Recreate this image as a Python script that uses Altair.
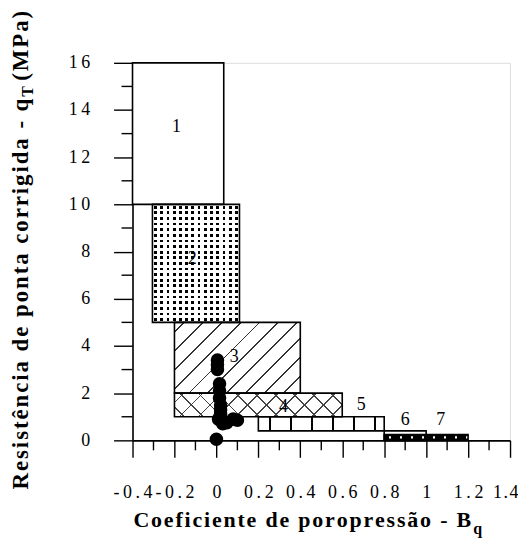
import altair as alt
import pandas as pd

# ---------------- data ----------------
box_id = ["1", "2", "3", "4", "5", "6", "7"]
box_x1 = [-0.4, -0.305, -0.2, -0.2, 0.2, 0.8, 0.8]
box_x2 = [0.035, 0.11, 0.4, 0.6, 0.8, 1.0, 1.2]
box_y1 = [10, 5, 2, 1, 0.4, 0, 0]
box_y2 = [16, 10, 5, 2, 1, 0.4, 0.25]

lab_text = ["1", "2", "3", "4", "5", "6", "7"]
lab_x = [-0.19, -0.115, 0.085, 0.32, 0.69, 0.9, 1.07]
lab_y = [13.3, 7.7, 3.55, 1.4, 1.5, 0.85, 0.85]

pt_x = [0.0, 0.005, 0.005, 0.005, 0.015, 0.015, 0.015, 0.02, 0.02, 0.02, 0.01, 0.03, 0.05, 0.08, 0.10]
pt_y = [0.05, 3.4, 3.2, 3.0, 2.4, 2.1, 1.8, 1.5, 1.3, 1.1, 0.9, 0.7, 0.75, 0.9, 0.85]

x_ticks = [-0.4, -0.2, 0, 0.2, 0.4, 0.6, 0.8, 1, 1.2, 1.4]
x_minor = [-0.3, -0.1, 0.1, 0.3, 0.5, 0.7, 0.9, 1.1, 1.3]
y_ticks = [0, 2, 4, 6, 8, 10, 12, 14, 16]
y_minor = [1, 3, 5, 7, 9, 11, 13, 15]

x_title_main = "Coeficiente de poropressão - B"
x_title_sub = "q"
y_title_main = "Resistência de ponta corrigida - q"
y_title_sub = "T"
y_title_end = "(MPa)"

# ---------------- layout constants ----------------
W, H = 379, 379
XMIN, XMAX, YMIN, YMAX = -0.4, 1.4, 0, 16
PX = W / (XMAX - XMIN)
PY = H / (YMAX - YMIN)
SERIF = "Liberation Serif"
HS = "\u200a"


def spaced(s):
    return HS.join(list(s))


boxes = pd.DataFrame({"id": box_id, "x1": box_x1, "x2": box_x2, "y1": box_y1, "y2": box_y2})
labels = pd.DataFrame({"t": lab_text, "x": lab_x, "y": lab_y})
points = pd.DataFrame({"x": pt_x, "y": pt_y})

xs = alt.Scale(domain=[XMIN, XMAX], nice=False, zero=False)
ys = alt.Scale(domain=[YMIN, YMAX], nice=False, zero=False)

LBL_Y = "join(split('' + datum.value, ''), '\u2009')"
LBL_X = ("datum.value >= 1.4 ? join(split('' + datum.value, ''), '\u200a') "
         ": join(split('' + datum.value, ''), '\u2009')")
axis_common = dict(domainColor="black", domainWidth=1.6, tickColor="black", tickWidth=1.4,
                   labelColor="black", labelFont=SERIF, grid=False, title=None,
                   labelOverlap=False, labelFlush=False)
X_AX = alt.Axis(values=x_ticks, tickSize=17, labelFontSize=18, labelPadding=26, labelExpr=LBL_X,
                labelAlign={"condition": {"test": "datum.value >= 1.4", "value": "right"}, "value": "center"},
                labelOffset={"condition": {"test": "datum.value >= 1.4", "value": 8}, "value": 0},
                **axis_common)
Y_AX = alt.Axis(values=y_ticks, tickSize=19, labelFontSize=18, labelPadding=24, labelExpr=LBL_Y,
                **axis_common)


def X(f):
    return alt.X(f, scale=xs, axis=X_AX)


def Y(f):
    return alt.Y(f, scale=ys, axis=Y_AX)


def stops_from(centers, half, line, bg):
    out = [(0.0, bg)]
    for c in centers:
        a, b = max(c - half, 0.0), min(c + half, 1.0)
        if b <= 0 or a >= 1:
            continue
        out += [(a, bg), (a, line), (b, line), (b, bg)]
    out.append((1.0, bg))
    return [alt.GradientStop(offset=o, color=c) for o, c in out]


def box_px(i):
    return (box_x2[i] - box_x1[i]) * PX, (box_y2[i] - box_y1[i]) * PY


def diag_gradient(i, spacing, lw, line, bg, direction="/"):
    w, h = box_px(i)
    r = h / w
    s = (1 + r) / (1 + r * r)
    period = spacing / (w + h)
    half = (lw / ((w + h) / 2 ** 0.5)) / 2
    n = int(1 / period) + 2
    centers = [period * (k + 0.5) for k in range(n)]
    st = stops_from(centers, half, line, bg)
    if direction == "/":
        return alt.LinearGradient(gradient="linear", stops=st, x1=0, y1=0, x2=s, y2=s * r)
    return alt.LinearGradient(gradient="linear", stops=st, x1=0, y1=1, x2=s, y2=1 - s * r)


def straight_gradient(centers, half, line, bg, horizontal=True):
    st = stops_from(centers, half, line, bg)
    if horizontal:
        return alt.LinearGradient(gradient="linear", stops=st, x1=0, y1=0, x2=1, y2=0)
    return alt.LinearGradient(gradient="linear", stops=st, x1=0, y1=0, x2=0, y2=1)


def rect_layer(i, fill, df=None):
    d = boxes.iloc[[i]] if df is None else df
    return alt.Chart(d).mark_rect(fill=fill, strokeWidth=0).encode(
        x=X("x1:Q"), x2="x2:Q", y=Y("y1:Q"), y2="y2:Q")


layers = []
TR = "rgba(255,255,255,0)"
# box 1: plain white
layers.append(rect_layer(0, "white"))
# box 2: black dots on white (black base, white stripe overlays)
w2, h2 = box_px(1)
ncol, nrow = 14, 21
layers.append(rect_layer(1, "black"))
layers.append(rect_layer(1, straight_gradient([(k + 0.5) / ncol for k in range(ncol)], 1.4 / w2, TR, "white", True)))
layers.append(rect_layer(1, straight_gradient([(k + 0.5) / nrow for k in range(nrow)], 1.4 / h2, TR, "white", False)))
# box 3: diagonal "/" hatch
layers.append(rect_layer(2, "white"))
layers.append(rect_layer(2, diag_gradient(2, 19, 1.4, "#333333", TR, "/")))
# box 4: cross hatch
layers.append(rect_layer(3, "white"))
layers.append(rect_layer(3, diag_gradient(3, 19, 1.3, "#444444", TR, "/")))
layers.append(rect_layer(3, diag_gradient(3, 19, 1.3, "#444444", TR, "\\")))
# box 5: vertical lines
w5, _ = box_px(4)
layers.append(rect_layer(4, "white"))
layers.append(rect_layer(4, straight_gradient([(12 + 21 * k) / w5 for k in range(6)], 0.9 / w5, "black", TR, True)))
# box 6: plain
layers.append(rect_layer(5, "white"))
# box 7: black bar with white dots in the middle
w7, _ = box_px(6)
layers.append(rect_layer(6, "black"))
mid = (box_y1[6] + box_y2[6]) / 2
band = pd.DataFrame({"x1": [box_x1[6]], "x2": [box_x2[6]], "y1": [mid - 1.1 / PY], "y2": [mid + 1.1 / PY]})
layers.append(rect_layer(6, straight_gradient([(6 + 11 * k) / w7 for k in range(8)], 1.3 / w7, "white", "black", True), df=band))

# outlines
layers.append(alt.Chart(boxes).mark_rect(fill=None, fillOpacity=0, stroke="black", strokeWidth=1.6).encode(
    x=X("x1:Q"), x2="x2:Q", y=Y("y1:Q"), y2="y2:Q"))

# minor ticks
layers.append(alt.Chart(pd.DataFrame({"v": x_minor})).mark_rule(color="black", strokeWidth=1.4).encode(
    x=X("v:Q"), y=alt.value(H), y2=alt.value(H + 10)))
layers.append(alt.Chart(pd.DataFrame({"v": y_minor})).mark_rule(color="black", strokeWidth=1.4).encode(
    y=Y("v:Q"), x=alt.value(-11), x2=alt.value(0)))

# points
layers.append(alt.Chart(points).mark_circle(color="black", opacity=1, size=185).encode(
    x=X("x:Q"), y=Y("y:Q")))

# zone labels
layers.append(alt.Chart(labels).mark_text(font=SERIF, fontSize=18, color="black", baseline="middle", align="center").encode(
    x=X("x:Q"), y=Y("y:Q"), text="t:N"))

# axis titles
one = pd.DataFrame({"a": [0]})
XT_END = 340
layers.append(alt.Chart(one).mark_text(font=SERIF, fontSize=22, fontWeight="bold", align="right",
                                       baseline="alphabetic", color="black").encode(
    x=alt.value(XT_END), y=alt.value(466), text=alt.value(spaced(x_title_main))))
layers.append(alt.Chart(one).mark_text(font=SERIF, fontSize=16, fontWeight="bold", align="left",
                                       baseline="alphabetic", color="black").encode(
    x=alt.value(XT_END + 2), y=alt.value(473), text=alt.value(x_title_sub)))

YT_X = -105
YT_END = 36
layers.append(alt.Chart(one).mark_text(font=SERIF, fontSize=23, fontWeight="bold", align="right", angle=270,
                                       baseline="alphabetic", color="black").encode(
    x=alt.value(YT_X), y=alt.value(YT_END), text=alt.value(spaced(y_title_main))))
layers.append(alt.Chart(one).mark_text(font=SERIF, fontSize=16, fontWeight="bold", align="left", angle=270,
                                       baseline="alphabetic", color="black").encode(
    x=alt.value(YT_X + 5), y=alt.value(YT_END - 2), text=alt.value(y_title_sub)))
layers.append(alt.Chart(one).mark_text(font=SERIF, fontSize=23, fontWeight="bold", align="left", angle=270,
                                       baseline="alphabetic", color="black").encode(
    x=alt.value(YT_X), y=alt.value(YT_END - 18), text=alt.value(spaced(y_title_end))))

chart = alt.layer(*layers).properties(
    width=W, height=H,
    autosize=alt.AutoSizeParams(type="none"),
    padding={"left": 125, "top": 54, "right": 8, "bottom": 100},
).configure_view(stroke=None).configure(background="white")

chart.save("out.html", embed_options={"renderer": "svg", "actions": False})
